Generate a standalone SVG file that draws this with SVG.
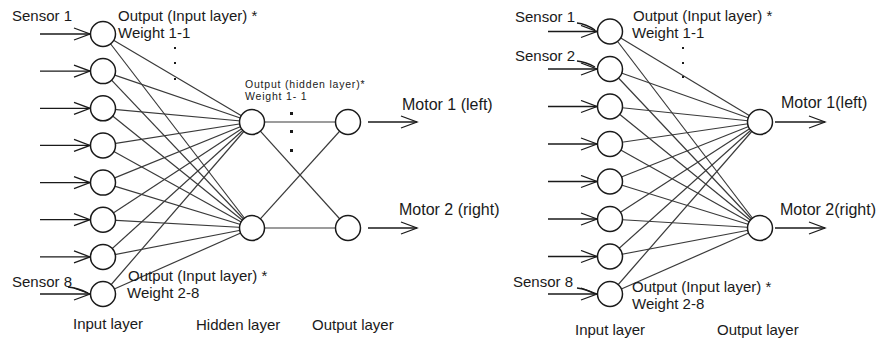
<svg xmlns="http://www.w3.org/2000/svg" width="877" height="343" viewBox="0 0 877 343">
<style>
.n{fill:#fff;stroke:#1a1a1a;stroke-width:1.5}
.c{stroke:#3a3a3a;stroke-width:1.2;fill:none}
.a{stroke:#1a1a1a;stroke-width:1.3;fill:none}
.t{font-family:"Liberation Sans",Arial,sans-serif;font-size:15px;fill:#1a1a1a}
.m{font-family:"Liberation Sans",Arial,sans-serif;font-size:16px;fill:#1a1a1a}
.s{font-family:"Liberation Sans",Arial,sans-serif;font-size:10.5px;fill:#1a1a1a;letter-spacing:0.8px}
.d{fill:#1a1a1a}
</style>
<defs>
<marker id="ah" markerUnits="userSpaceOnUse" markerWidth="20" markerHeight="16" refX="17" refY="7" orient="auto">
<polyline points="1,1 17,7 1,13" fill="none" stroke="#1a1a1a" stroke-width="1.3"/>
</marker>
</defs>
<rect width="877" height="343" fill="#fff"/>

<g id="connectors">
<!-- left: input to hidden -->
<g class="c">
<line x1="103" y1="34" x2="252" y2="122"/><line x1="103" y1="34" x2="252" y2="228"/>
<line x1="103" y1="71.1" x2="252" y2="122"/><line x1="103" y1="71.1" x2="252" y2="228"/>
<line x1="103" y1="108.3" x2="252" y2="122"/><line x1="103" y1="108.3" x2="252" y2="228"/>
<line x1="103" y1="145.4" x2="252" y2="122"/><line x1="103" y1="145.4" x2="252" y2="228"/>
<line x1="103" y1="182.6" x2="252" y2="122"/><line x1="103" y1="182.6" x2="252" y2="228"/>
<line x1="103" y1="219.7" x2="252" y2="122"/><line x1="103" y1="219.7" x2="252" y2="228"/>
<line x1="103" y1="256.9" x2="252" y2="122"/><line x1="103" y1="256.9" x2="252" y2="228"/>
<line x1="103" y1="294" x2="252" y2="122"/><line x1="103" y1="294" x2="252" y2="228"/>
<!-- hidden to output -->
<line x1="252" y1="122" x2="348" y2="122"/><line x1="252" y1="122" x2="348" y2="228"/>
<line x1="252" y1="228" x2="348" y2="122"/><line x1="252" y1="228" x2="348" y2="228"/>
<!-- right: input to output -->
<line x1="610" y1="31.5" x2="760" y2="122"/><line x1="610" y1="31.5" x2="760" y2="228"/>
<line x1="610" y1="69" x2="760" y2="122"/><line x1="610" y1="69" x2="760" y2="228"/>
<line x1="610" y1="106.5" x2="760" y2="122"/><line x1="610" y1="106.5" x2="760" y2="228"/>
<line x1="610" y1="144" x2="760" y2="122"/><line x1="610" y1="144" x2="760" y2="228"/>
<line x1="610" y1="181.5" x2="760" y2="122"/><line x1="610" y1="181.5" x2="760" y2="228"/>
<line x1="610" y1="219" x2="760" y2="122"/><line x1="610" y1="219" x2="760" y2="228"/>
<line x1="610" y1="256.5" x2="760" y2="122"/><line x1="610" y1="256.5" x2="760" y2="228"/>
<line x1="610" y1="294" x2="760" y2="122"/><line x1="610" y1="294" x2="760" y2="228"/>
</g>
<!-- arrows -->
<g class="a" marker-end="url(#ah)">
<line x1="40" y1="34" x2="90" y2="34"/>
<line x1="40" y1="71.1" x2="90" y2="71.1"/>
<line x1="40" y1="108.3" x2="90" y2="108.3"/>
<line x1="40" y1="145.4" x2="90" y2="145.4"/>
<line x1="40" y1="182.6" x2="90" y2="182.6"/>
<line x1="40" y1="219.7" x2="90" y2="219.7"/>
<line x1="40" y1="256.9" x2="90" y2="256.9"/>
<line x1="40" y1="294" x2="90" y2="294"/>
<line x1="368" y1="122" x2="417" y2="122"/>
<line x1="368" y1="228" x2="417" y2="228"/>
<line x1="548" y1="31.5" x2="597" y2="31.5"/>
<line x1="548" y1="69" x2="597" y2="69"/>
<line x1="548" y1="106.5" x2="597" y2="106.5"/>
<line x1="548" y1="144" x2="597" y2="144"/>
<line x1="548" y1="181.5" x2="597" y2="181.5"/>
<line x1="548" y1="219" x2="597" y2="219"/>
<line x1="548" y1="256.5" x2="597" y2="256.5"/>
<line x1="548" y1="294" x2="597" y2="294"/>
<line x1="775" y1="122" x2="825" y2="122"/>
<line x1="775" y1="228" x2="825" y2="228"/>
</g>
<!-- sensor leaders -->
<g class="a">
<path d="M68,287 Q78,288 88,293"/>
<path d="M577,23 Q586,24 595,30"/>
<path d="M577,61 Q586,62 595,67"/>
<path d="M577,288 Q586,289 595,294"/>
</g>
</g>

<g id="left-input-1"><circle class="n" cx="103" cy="34" r="12.5"/></g>
<g id="left-input-2"><circle class="n" cx="103" cy="71.1" r="12.5"/></g>
<g id="left-input-3"><circle class="n" cx="103" cy="108.3" r="12.5"/></g>
<g id="left-input-4"><circle class="n" cx="103" cy="145.4" r="12.5"/></g>
<g id="left-input-5"><circle class="n" cx="103" cy="182.6" r="12.5"/></g>
<g id="left-input-6"><circle class="n" cx="103" cy="219.7" r="12.5"/></g>
<g id="left-input-7"><circle class="n" cx="103" cy="256.9" r="12.5"/></g>
<g id="left-input-8"><circle class="n" cx="103" cy="294" r="12.5"/></g>
<g id="left-hidden-1"><circle class="n" cx="252" cy="122" r="12.5"/></g>
<g id="left-hidden-2"><circle class="n" cx="252" cy="228" r="12.5"/></g>
<g id="left-output-1"><circle class="n" cx="348" cy="122" r="12.5"/></g>
<g id="left-output-2"><circle class="n" cx="348" cy="228" r="12.5"/></g>

<g id="right-input-1"><circle class="n" cx="610" cy="31.5" r="12.5"/></g>
<g id="right-input-2"><circle class="n" cx="610" cy="69" r="12.5"/></g>
<g id="right-input-3"><circle class="n" cx="610" cy="106.5" r="12.5"/></g>
<g id="right-input-4"><circle class="n" cx="610" cy="144" r="12.5"/></g>
<g id="right-input-5"><circle class="n" cx="610" cy="181.5" r="12.5"/></g>
<g id="right-input-6"><circle class="n" cx="610" cy="219" r="12.5"/></g>
<g id="right-input-7"><circle class="n" cx="610" cy="256.5" r="12.5"/></g>
<g id="right-input-8"><circle class="n" cx="610" cy="294" r="12.5"/></g>
<g id="right-output-1"><circle class="n" cx="760" cy="122" r="12.5"/></g>
<g id="right-output-2"><circle class="n" cx="760" cy="228" r="12.5"/></g>

<g id="labels">
<text class="t" x="12" y="21">Sensor 1</text>
<text class="t" x="12" y="287">Sensor 8</text>
<text class="t" x="118" y="21">Output (Input layer) *</text>
<text class="t" x="118" y="38">Weight 1-1</text>
<text class="t" x="128" y="281">Output (Input layer) *</text>
<text class="t" x="127" y="298">Weight 2-8</text>
<text class="s" x="245" y="88">Output (hidden layer)*</text>
<text class="s" x="245" y="100">Weight 1- 1</text>
<text class="m" x="402" y="110">Motor 1 (left)</text>
<text class="m" x="399" y="215">Motor 2 (right)</text>
<text class="t" x="73" y="329">Input layer</text>
<text class="t" x="196" y="330">Hidden layer</text>
<text class="t" x="312" y="330">Output layer</text>

<text class="t" x="515" y="22">Sensor 1</text>
<text class="t" x="515" y="61">Sensor 2</text>
<text class="t" x="513" y="287">Sensor 8</text>
<text class="t" x="633" y="21">Output (Input layer) *</text>
<text class="t" x="632" y="38">Weight 1-1</text>
<text class="t" x="632" y="292">Output (Input layer) *</text>
<text class="t" x="632" y="309">Weight 2-8</text>
<text class="m" x="781" y="108">Motor 1(left)</text>
<text class="m" x="780" y="215">Motor 2(right)</text>
<text class="t" x="575" y="335">Input layer</text>
<text class="t" x="717" y="335">Output layer</text>
</g>

<g id="dots" class="d">
<rect x="174" y="47" width="2" height="2"/>
<rect x="174" y="62" width="2" height="2"/>
<rect x="174" y="78" width="2" height="2"/>
<rect x="290" y="112" width="3" height="3"/>
<rect x="290" y="130" width="3" height="3"/>
<rect x="290" y="149" width="3" height="3"/>
<rect x="682" y="47" width="2" height="2"/>
<rect x="682" y="62" width="2" height="2"/>
<rect x="682" y="76" width="2" height="2"/>
</g>
</svg>
